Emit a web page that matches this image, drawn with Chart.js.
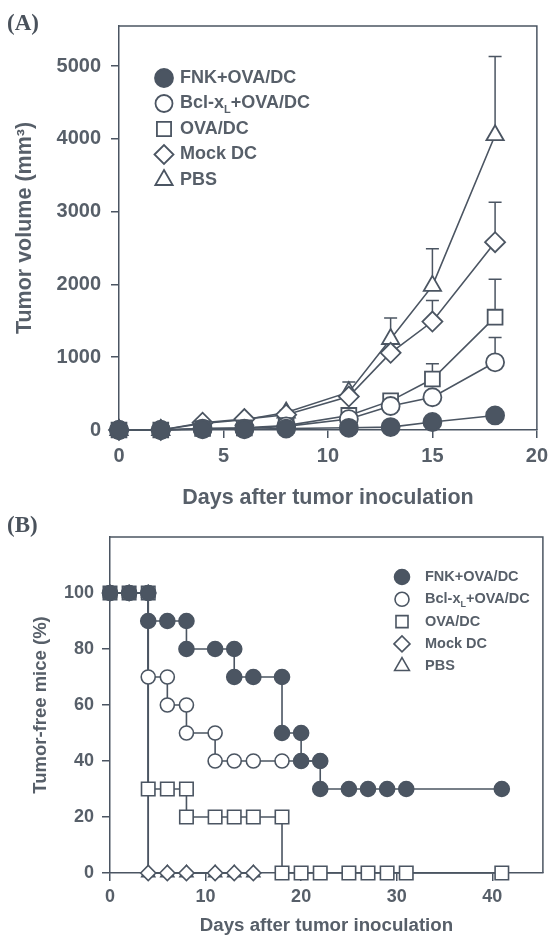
<!DOCTYPE html>
<html><head><meta charset="utf-8">
<script src="https://cdn.jsdelivr.net/npm/chart.js@4/dist/chart.umd.min.js"></script>
<style>
html,body{margin:0;padding:0;background:#fff;}
#wrap{position:relative;width:554px;height:941px;overflow:hidden;background:#fff;}
canvas{position:absolute;left:0;}
.pl{position:absolute;font-family:"Liberation Serif","Times New Roman",serif;font-weight:bold;font-size:23px;color:#4a525c;line-height:1;}
</style></head><body>
<div id="wrap">
<canvas id="ca" width="554" height="512" style="top:0px"></canvas>
<canvas id="cb" width="554" height="429" style="top:512px"></canvas>
<div class="pl" style="left:7px;top:11px">(A)</div>
<div class="pl" style="left:7px;top:513px">(B)</div>
</div>
<script>
// ---------- data ----------
const seriesNames = ['FNK+OVA/DC', 'Bcl-x|L|+OVA/DC', 'OVA/DC', 'Mock DC', 'PBS'];

// Panel A: tumor volume (mm3)
const daysA   = [0, 2, 4, 6, 8, 11, 13, 15, 18];
const volFNK  = [0, 0, 10, 10, 20, 30, 40, 110, 200];
const volBcl  = [0, 0, 20, 20, 50, 150, 330, 450, 930];
const volOVA  = [0, 0, 20, 30, 60, 200, 400, 700, 1550];
const volMock = [0, 0, 100, 150, 210, 460, 1060, 1490, 2580];
const volPBS  = [0, 0, 90, 140, 240, 520, 1250, 1980, 4050];
const errFNK  = [0, 0, 0, 0, 0, 0, 0, 0, 0];
const errBcl  = [0, 0, 0, 0, 0, 0, 0, 0, 340];
const errOVA  = [0, 0, 0, 0, 0, 0, 70, 210, 520];
const errMock = [0, 0, 0, 0, 0, 0, 0, 290, 550];
const errPBS  = [0, 0, 0, 0, 30, 140, 290, 510, 1080];
const ticksAx = [0, 5, 10, 15, 20];
const ticksAy = [0, 1000, 2000, 3000, 4000, 5000];

// Panel B: tumor-free mice (%)
const fnkX  = [0, 2, 4, 4, 6, 8, 8, 11, 13, 13, 15, 18, 18, 20, 20, 22, 22, 25, 27, 29, 31, 41];
const fnkY  = [100, 100, 100, 90, 90, 90, 80, 80, 80, 70, 70, 70, 50, 50, 40, 40, 30, 30, 30, 30, 30, 30];
const bclX  = [0, 2, 4, 4, 6, 6, 8, 8, 11, 11, 13, 15, 18, 20, 22];
const bclY  = [100, 100, 100, 70, 70, 60, 60, 50, 50, 40, 40, 40, 40, 40, 40];
const ovaX  = [0, 2, 4, 4, 6, 8, 8, 11, 13, 15, 18, 18, 20, 22, 25, 27, 29, 31, 41];
const ovaY  = [100, 100, 100, 30, 30, 30, 20, 20, 20, 20, 20, 0, 0, 0, 0, 0, 0, 0, 0];
const mockX = [0, 2, 4, 4, 6, 8, 11, 13, 15];
const mockY = [100, 100, 100, 0, 0, 0, 0, 0, 0];
const pbsX  = [0, 2, 4, 4, 6, 8, 11, 13, 15];
const pbsY  = [100, 100, 100, 0, 0, 0, 0, 0, 0];
const ticksBx = [0, 10, 20, 30, 40];
const ticksBy = [0, 20, 40, 60, 80, 100];

// ---------- style ----------
const INK = '#4b5562';
const TXT = '#575f69';
const FONT = '"Liberation Sans", Arial, Helvetica, sans-serif';
const styles = [
  {ps: 'circle',   fill: INK},
  {ps: 'circle',   fill: '#ffffff'},
  {ps: 'rect',     fill: '#ffffff'},
  {ps: 'rectRot',  fill: '#ffffff'},
  {ps: 'triangle', fill: '#ffffff'}
];
const radA = [9, 9, 10.5, 10, 10];
const radB = [7.5, 7, 9.5, 7.5, 7.5];

function pts(xs, ys) { return xs.map((x, i) => ({x: x, y: ys[i]})); }

function drawSym(ctx, ps, x, y, r, fill, lw) {
  ctx.save();
  ctx.beginPath();
  if (ps === 'circle') ctx.arc(x, y, r, 0, Math.PI * 2);
  else if (ps === 'rect') { const s = r * Math.SQRT1_2; ctx.rect(x - s, y - s, 2 * s, 2 * s); }
  else if (ps === 'rectRot') { ctx.moveTo(x - r, y); ctx.lineTo(x, y - r); ctx.lineTo(x + r, y); ctx.lineTo(x, y + r); ctx.closePath(); }
  else if (ps === 'triangle') { ctx.moveTo(x, y - r); ctx.lineTo(x + r * 0.866, y + r * 0.5); ctx.lineTo(x - r * 0.866, y + r * 0.5); ctx.closePath(); }
  ctx.fillStyle = fill; ctx.fill();
  ctx.lineWidth = lw; ctx.strokeStyle = INK; ctx.stroke();
  ctx.restore();
}

function drawLabel(ctx, label, x, y, size) {
  const parts = label.split('|');
  ctx.save();
  ctx.fillStyle = TXT;
  ctx.textBaseline = 'middle';
  ctx.textAlign = 'left';
  let cx = x;
  parts.forEach((p, i) => {
    if (i % 2 === 1) {
      ctx.font = 'bold ' + Math.round(size * 0.6) + 'px ' + FONT;
      ctx.fillText(p, cx, y + size * 0.35);
    } else {
      ctx.font = 'bold ' + size + 'px ' + FONT;
      ctx.fillText(p, cx, y);
    }
    cx += ctx.measureText(p).width;
  });
  ctx.restore();
}

const framePlugin = {
  id: 'frame',
  beforeDatasetsDraw(chart) {
    const a = chart.chartArea, ctx = chart.ctx;
    ctx.save();
    ctx.strokeStyle = INK; ctx.lineWidth = 1.5;
    ctx.beginPath();
    ctx.moveTo(a.left, a.top); ctx.lineTo(a.right, a.top); ctx.lineTo(a.right, a.bottom);
    ctx.stroke();
    ctx.restore();
  }
};

const errPlugin = {
  id: 'errbars',
  beforeDatasetsDraw(chart, args, opts) {
    if (!opts.errs) return;
    const ctx = chart.ctx, ys = chart.scales.y;
    ctx.save();
    ctx.strokeStyle = INK; ctx.lineWidth = 1.5;
    opts.errs.forEach((errs, di) => {
      const meta = chart.getDatasetMeta(di);
      const vals = chart.data.datasets[di].data;
      errs.forEach((e, j) => {
        if (!e) return;
        const el = meta.data[j];
        const top = ys.getPixelForValue(vals[j].y + e);
        ctx.beginPath();
        ctx.moveTo(el.x, el.y); ctx.lineTo(el.x, top);
        ctx.moveTo(el.x - 6.5, top); ctx.lineTo(el.x + 6.5, top);
        ctx.stroke();
      });
    });
    ctx.restore();
  }
};

const legendPlugin = {
  id: 'inlegend',
  afterDraw(chart, args, o) {
    const ctx = chart.ctx;
    seriesNames.forEach((n, i) => {
      const y = o.y0 + i * o.dy;
      drawSym(ctx, styles[i].ps, o.sx, y, o.rad[i], styles[i].fill, o.lw);
      drawLabel(ctx, n, o.tx, y, o.size);
    });
  }
};

function scaleOpts(kind, min, max, ticksArr, fitSize, tickFont, tickPad, title, titleFont, titlePad) {
  const o = {
    type: 'linear', min: min, max: max,
    afterBuildTicks: s => { s.ticks = ticksArr.map(v => ({value: v})); },
    grid: {drawOnChartArea: false, drawTicks: true, tickLength: 8, color: INK, lineWidth: 1.5},
    border: {display: true, color: INK, width: 1.5},
    ticks: {color: TXT, font: {family: FONT, size: tickFont, weight: 'bold'}, padding: tickPad, maxRotation: 0, autoSkip: false,
            callback: v => String(v)},
    title: {display: true, text: title, color: TXT, font: {family: FONT, size: titleFont, weight: 'bold'}, padding: titlePad}
  };
  if (kind === 'x') o.afterFit = s => { s.height = fitSize; };
  else o.afterFit = s => { s.width = fitSize; };
  return o;
}

function makeDatasets(series, rads, lw) {
  return series.map((d, i) => ({
    label: seriesNames[i].replace(/\|/g, ''),
    data: d,
    borderColor: INK,
    borderWidth: 1.6,
    backgroundColor: styles[i].fill,
    pointStyle: styles[i].ps,
    pointRadius: rads[i],
    pointHoverRadius: rads[i],
    pointBorderColor: INK,
    pointBackgroundColor: styles[i].fill,
    pointBorderWidth: lw,
    tension: 0,
    fill: false,
    clip: false
  }));
}

Chart.defaults.animation = false;

new Chart(document.getElementById('ca'), {
  type: 'line',
  data: {
    datasets: makeDatasets([
      pts(daysA, volFNK), pts(daysA, volBcl), pts(daysA, volOVA), pts(daysA, volMock), pts(daysA, volPBS)
    ], radA, 1.8)
  },
  options: {
    responsive: false, animation: false,
    layout: {padding: {left: 0, top: 26, right: 13, bottom: 0}},
    scales: {
      x: scaleOpts('x', 0, 20, ticksAx, 82, 20, 6, 'Days after tumor inoculation', 21.5, {top: 0, bottom: 1}),
      y: scaleOpts('y', 0, 5550, ticksAy, 119, 20, 10, 'Tumor volume (mm\u00B3)', 21.5, {top: 12, bottom: 0})
    },
    plugins: {
      legend: {display: false}, tooltip: {enabled: false},
      errbars: {errs: [errFNK, errBcl, errOVA, errMock, errPBS]},
      inlegend: {sx: 164, tx: 180, y0: 78, dy: 25.5, size: 18, rad: [9, 8.5, 10, 9.5, 10], lw: 1.8}
    }
  },
  plugins: [framePlugin, errPlugin, legendPlugin]
});

new Chart(document.getElementById('cb'), {
  type: 'line',
  data: {
    datasets: makeDatasets([
      pts(fnkX, fnkY), pts(bclX, bclY), pts(ovaX, ovaY), pts(mockX, mockY), pts(pbsX, pbsY)
    ], radB, 1.6)
  },
  options: {
    responsive: false, animation: false,
    layout: {padding: {left: 0, top: 25, right: 11, bottom: 0}},
    scales: {
      x: scaleOpts('x', 0, 45.3, ticksBx, 68, 18, 5, 'Days after tumor inoculation', 18.7, {top: 0, bottom: 4}),
      y: scaleOpts('y', 0, 120, ticksBy, 110, 18, 8, 'Tumor-free mice (%)', 18.5, {top: 30, bottom: 0})
    },
    plugins: {
      legend: {display: false}, tooltip: {enabled: false},
      inlegend: {sx: 402, tx: 425, y0: 65, dy: 22.3, size: 14.5, rad: [7.5, 7, 8.5, 8, 8.5], lw: 1.6}
    }
  },
  plugins: [framePlugin, legendPlugin]
});
</script>
</body></html>
